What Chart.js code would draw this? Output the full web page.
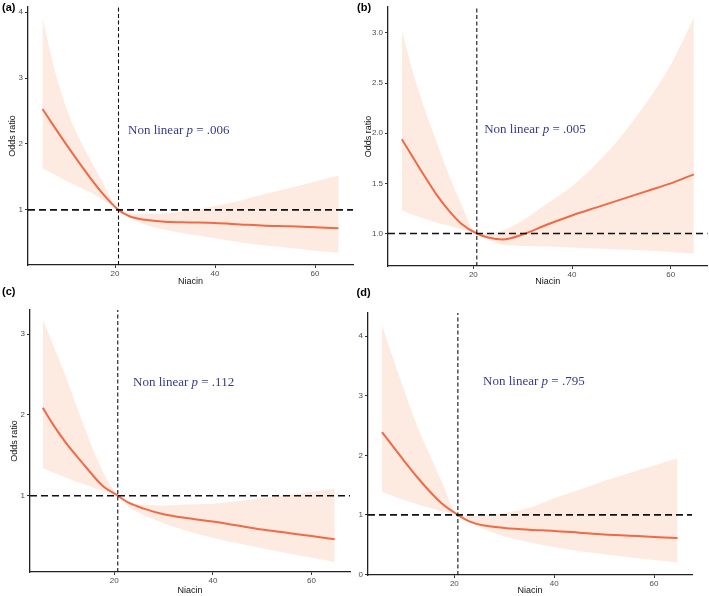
<!DOCTYPE html>
<html>
<head>
<meta charset="utf-8">
<script src="https://cdn.jsdelivr.net/npm/chart.js@4.4.0/dist/chart.umd.min.js"></script>
<style>
  html, body { margin: 0; padding: 0; background: #fff; }
  #wrap { position: relative; width: 709px; height: 596px; }
  .panel { position: absolute; }
</style>
</head>
<body>
<div id="wrap">
  <div class="panel" style="left:0;top:0;width:355px;height:287px"><canvas id="pa"></canvas></div>
  <div class="panel" style="left:355px;top:0;width:354px;height:287px"><canvas id="pb"></canvas></div>
  <div class="panel" style="left:0;top:286px;width:355px;height:310px"><canvas id="pc"></canvas></div>
  <div class="panel" style="left:355px;top:286px;width:354px;height:310px"><canvas id="pd"></canvas></div>
</div>
<script>
// niacin values where the curves are read
const niacin = [5.5, 7.5, 10, 12.5, 15, 17.5, 20.7, 23, 26, 30, 35, 40, 45, 50, 55, 60, 64.7];

// (a)
const orA = [2.53, 2.3, 2.02, 1.75, 1.49, 1.25, 1.0, 0.9, 0.85, 0.82, 0.81, 0.8, 0.78, 0.76, 0.75, 0.735, 0.72];
const upA = [3.92, 3.25, 2.6, 2.14, 1.77, 1.42, 1.0, 0.95, 0.94, 0.95, 0.99, 1.06, 1.14, 1.24, 1.33, 1.43, 1.52];
const loA = [1.63, 1.55, 1.45, 1.36, 1.27, 1.15, 1.0, 0.88, 0.78, 0.7, 0.63, 0.57, 0.51, 0.46, 0.42, 0.38, 0.35];
// (b)
const orB = [1.94, 1.78, 1.58, 1.39, 1.23, 1.1, 1.0, 0.96, 0.94, 0.99, 1.09, 1.18, 1.26, 1.34, 1.42, 1.5, 1.59];
const upB = [3.03, 2.65, 2.26, 1.92, 1.59, 1.3, 1.0, 1.0, 1.03, 1.13, 1.3, 1.47, 1.7, 1.97, 2.3, 2.68, 3.15];
const loB = [1.23, 1.19, 1.15, 1.11, 1.08, 1.04, 1.0, 0.94, 0.89, 0.875, 0.87, 0.86, 0.85, 0.84, 0.83, 0.815, 0.8];
// (c)
const orC = [2.09, 1.89, 1.67, 1.48, 1.3, 1.13, 1.0, 0.91, 0.84, 0.77, 0.72, 0.68, 0.63, 0.58, 0.54, 0.5, 0.46];
const upC = [3.18, 2.88, 2.5, 2.08, 1.68, 1.32, 1.0, 0.92, 0.89, 0.88, 0.89, 0.9, 0.93, 0.97, 1.01, 1.05, 1.09];
const loC = [1.34, 1.29, 1.23, 1.17, 1.12, 1.06, 1.0, 0.86, 0.76, 0.66, 0.56, 0.48, 0.41, 0.35, 0.29, 0.23, 0.18];
// (d)
const orD = [2.39, 2.17, 1.9, 1.64, 1.4, 1.19, 1.0, 0.89, 0.82, 0.78, 0.75, 0.73, 0.7, 0.67, 0.65, 0.63, 0.61];
const upD = [4.18, 3.68, 3.08, 2.5, 2.02, 1.55, 1.0, 0.98, 0.99, 1.03, 1.12, 1.28, 1.42, 1.57, 1.7, 1.83, 1.95];
const loD = [1.39, 1.32, 1.25, 1.18, 1.12, 1.06, 1.0, 0.87, 0.76, 0.64, 0.54, 0.46, 0.39, 0.34, 0.29, 0.24, 0.2];

const xTicks = [20, 40, 60];
const yTicksA = [1, 2, 3, 4];
const yTicksB = [1.0, 1.5, 2.0, 2.5, 3.0];
const yTicksC = [1, 2, 3];
const yTicksD = [0, 1, 2, 3, 4];
const pValues = ['.006', '.005', '.112', '.795'];
const refNiacin = 20.7;
const refOR = 1;

const lineCol = '#f06a48';
const bandCol = 'rgba(250, 205, 180, 0.42)';

function pts(ys) {
    return niacin.map((x, i) => ({ x: x, y: ys[i] }));
}

// tag + "Non linear p = ..." text
const notes = {
    id: 'notes',
    afterDraw(chart, args, o) {
        const { ctx } = chart;
        const sx = chart.scales.x, sy = chart.scales.y;
        ctx.save();
        ctx.textBaseline = 'middle';
        ctx.fillStyle = '#000';
        ctx.font = 'bold 11px "Liberation Sans"';
        ctx.fillText(o.tag, o.tagX, o.tagY);
        let px = sx.getPixelForValue(o.at[0]);
        const py = sy.getPixelForValue(o.at[1]);
        ctx.fillStyle = '#353b8c';
        [['Non linear ', ''], ['p', 'italic '], [' = ' + o.p, '']].forEach(([t, st]) => {
            ctx.font = st + '13px "Liberation Serif"';
            ctx.fillText(t, px, py);
            px += ctx.measureText(t).width;
        });
        ctx.restore();
    }
};

const panels = [
    { id: 'pa', tag: '(a)', p: pValues[0], or: orA, up: upA, lo: loA, yTicks: yTicksA, dec: 0,
      xMin: 2.6, xMax: 67.6, yMin: 0.164, yMax: 4.08, yW: 28, xH: 22,
      pad: { left: 0, right: 2, top: 2.5, bottom: 0 }, yTitle: true, yTitlePad: 7.6,
      at: [22.6, 2.21], tagX: 2, tagY: 8 },
    { id: 'pb', tag: '(b)', p: pValues[1], or: orB, up: upB, lo: loB, yTicks: yTicksB, dec: 1,
      xMin: 2.7, xMax: 67.5, yMin: 0.676, yMax: 3.26, yW: 33, xH: 21,
      pad: { left: 0, right: 1.3, top: 2, bottom: 0 }, yTitle: true, yTitlePad: 7.9,
      at: [22.2, 2.04], tagX: 2, tagY: 8 },
    { id: 'pc', tag: '(c)', p: pValues[2], or: orC, up: upC, lo: loC, yTicks: yTicksC, dec: 0,
      xMin: 2.9, xMax: 67.8, yMin: 0.055, yMax: 3.3, yW: 30, xH: 24,
      pad: { left: 0, right: 5, top: 24, bottom: 0 }, yTitle: true, yTitlePad: 9.6,
      at: [23.8, 2.4], tagX: 2, tagY: 6 },
    { id: 'pd', tag: '(d)', p: pValues[3], or: orD, up: upD, lo: loD, yTicks: yTicksD, dec: 0,
      xMin: 2.7, xMax: 67.6, yMin: -0.01, yMax: 4.39, yW: 13, xH: 21,
      pad: { left: 0, right: 17, top: 27, bottom: 0 }, yTitle: false, yTitlePad: 0,
      at: [25.75, 3.24], tagX: 1.5, tagY: 7 }
];

panels.forEach(pn => {
    new Chart(document.getElementById(pn.id), {
        type: 'line',
        data: {
            datasets: [
                { data: [{ x: pn.xMin, y: refOR }, { x: pn.xMax, y: refOR }], borderColor: '#111',
                  borderWidth: 1.6, borderDash: [7, 4], pointRadius: 0, fill: false },
                { data: [{ x: refNiacin, y: pn.yMin }, { x: refNiacin, y: pn.yMax }], borderColor: '#111',
                  borderWidth: 1.1, borderDash: [4, 2.5], pointRadius: 0, fill: false },
                { data: pts(pn.or), borderColor: lineCol, borderWidth: 2, pointRadius: 0,
                  cubicInterpolationMode: 'monotone', fill: false },
                { data: pts(pn.up), borderWidth: 0, borderColor: 'rgba(0,0,0,0)', pointRadius: 0,
                  cubicInterpolationMode: 'monotone', backgroundColor: bandCol, fill: '+1' },
                { data: pts(pn.lo), borderWidth: 0, borderColor: 'rgba(0,0,0,0)', pointRadius: 0,
                  cubicInterpolationMode: 'monotone', fill: false }
            ]
        },
        options: {
            responsive: true,
            maintainAspectRatio: false,
            animation: false,
            layout: { padding: pn.pad, autoPadding: false },
            plugins: {
                legend: { display: false },
                tooltip: { enabled: false },
                notes: { tag: pn.tag, p: pn.p, at: pn.at, tagX: pn.tagX, tagY: pn.tagY }
            },
            scales: {
                x: {
                    type: 'linear', min: pn.xMin, max: pn.xMax,
                    afterBuildTicks: s => { s.ticks = xTicks.map(v => ({ value: v })); },
                    afterFit: s => { s.height = pn.xH; },
                    border: { display: true, color: '#222', width: 1.3 },
                    grid: { drawOnChartArea: false, tickLength: 3, tickColor: '#333' },
                    ticks: { color: '#4d4d4d', font: { size: 8, family: 'Liberation Sans' }, padding: 1, maxRotation: 0 },
                    title: { display: true, text: 'Niacin', color: '#111', font: { size: 9, family: 'Liberation Sans' },
                             padding: { top: 0, bottom: 0 } }
                },
                y: {
                    type: 'linear', min: pn.yMin, max: pn.yMax,
                    afterBuildTicks: s => { s.ticks = pn.yTicks.map(v => ({ value: v })); },
                    afterFit: s => { s.width = pn.yW; },
                    border: { display: true, color: '#222', width: 1.3 },
                    grid: { drawOnChartArea: false, tickLength: 3, tickColor: '#333' },
                    ticks: { color: '#4d4d4d', font: { size: 8, family: 'Liberation Sans' }, padding: 2,
                             callback: v => v.toFixed(pn.dec) },
                    title: { display: pn.yTitle, text: 'Odds ratio', color: '#111', font: { size: 9, family: 'Liberation Sans' },
                             padding: { top: pn.yTitlePad, bottom: 0 } }
                }
            }
        },
        plugins: [notes]
    });
});
</script>
</body>
</html>
